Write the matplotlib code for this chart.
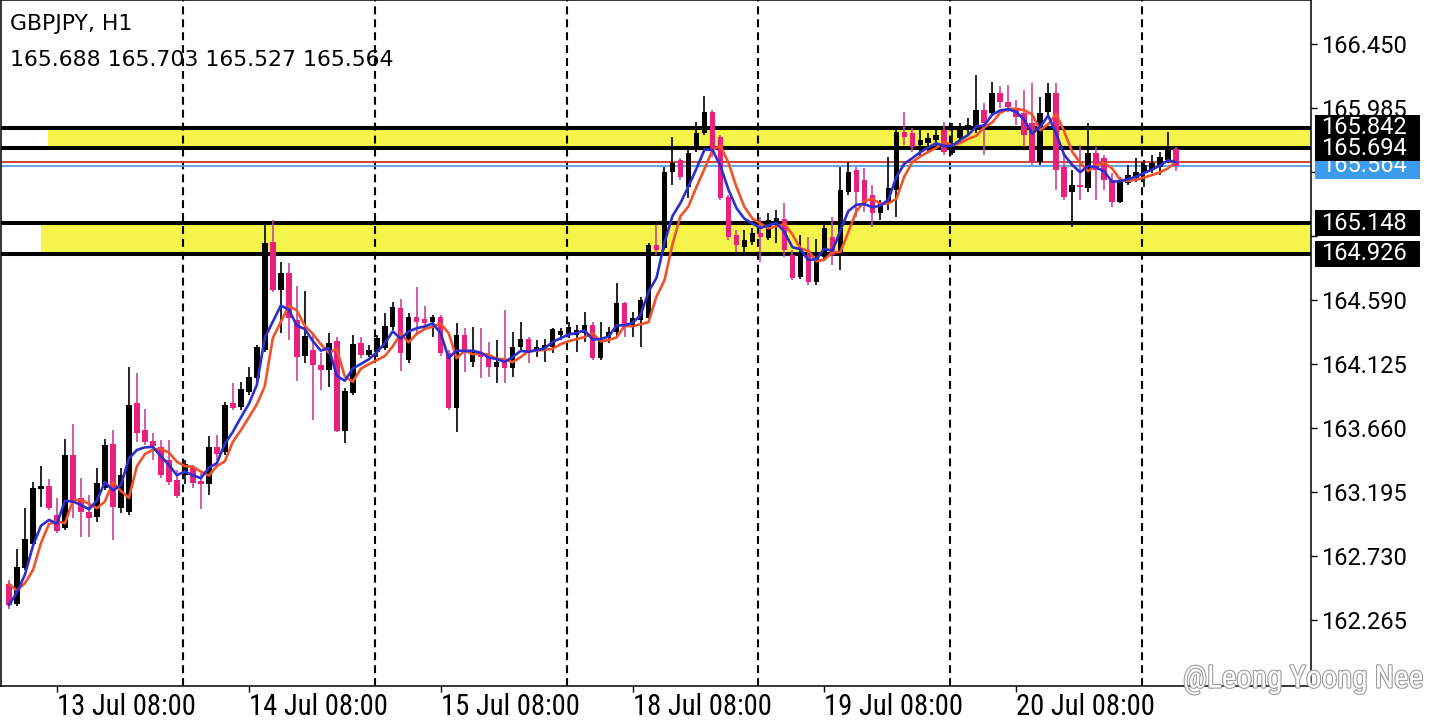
import matplotlib
matplotlib.use("Agg")
import matplotlib.pyplot as plt
import matplotlib.patheffects as pe
import matplotlib.transforms as mtransforms
from matplotlib import font_manager as fm
from matplotlib.patches import Rectangle
import numpy as np
import pandas as pd

plt.rcParams['font.family'] = ['Roboto', 'DejaVu Sans']

symbol = "GBPJPY, H1"
first_bar = "2022-07-13 02:00"

# hourly candles
opens = [162.527, 162.381, 162.643, 162.817, 163.217, 163.239, 163.028, 162.934, 163.464, 163.151,
         163.050, 163.013, 163.224, 163.544, 163.079, 163.050, 163.842, 163.646, 163.566, 163.522,
         163.428, 163.282, 163.319, 163.370, 163.275, 163.253, 163.522, 163.486, 163.842, 163.813,
         163.922, 164.023, 164.227, 165.012, 164.663, 164.786, 164.445, 164.183, 164.227, 164.118,
         164.082, 164.292, 163.638, 163.914, 164.278, 164.191, 164.212, 164.241, 164.394, 164.532,
         164.154, 164.467, 164.452, 164.430, 164.467, 164.205, 163.806, 164.336, 164.140, 164.212,
         164.176, 164.103, 164.154, 164.096, 164.249, 164.307, 164.227, 164.241, 164.249, 164.336,
         164.336, 164.336, 164.350, 164.409, 164.169, 164.314, 164.358, 164.568, 164.394, 164.445,
         164.459, 164.990, 164.968, 165.520, 165.607, 165.411, 165.695, 165.804, 165.956, 165.775,
         165.339, 165.062, 164.975, 165.012, 165.077, 165.041, 165.150, 165.179, 164.917, 164.757,
         164.917, 164.721, 164.903, 165.048, 164.939, 165.375, 165.535, 165.462, 165.353, 165.222,
         165.295, 165.389, 165.811, 165.804, 165.716, 165.731, 165.753, 165.825, 165.658, 165.767,
         165.825, 165.825, 165.971, 165.949, 166.094, 166.029, 165.986, 165.949, 165.876, 165.593,
         165.956, 166.094, 165.557, 165.375, 165.426, 165.404, 165.658, 165.622, 165.462, 165.302,
         165.440, 165.477, 165.513, 165.535, 165.557, 165.607, 165.688]
highs = [162.556, 162.781, 163.079, 163.268, 163.384, 163.290, 163.151, 163.580, 163.689, 163.297,
         163.173, 163.370, 163.580, 163.646, 163.370, 164.103, 164.060, 163.798, 163.624, 163.573,
         163.573, 163.355, 163.428, 163.391, 163.333, 163.602, 163.609, 163.849, 163.987, 163.994,
         164.103, 164.263, 165.135, 165.171, 164.866, 164.859, 164.692, 164.656, 164.336, 164.205,
         164.350, 164.321, 163.951, 164.336, 164.321, 164.263, 164.336, 164.496, 164.576, 164.598,
         164.496, 164.685, 164.547, 164.481, 164.481, 164.227, 164.423, 164.387, 164.394, 164.387,
         164.285, 164.300, 164.518, 164.358, 164.430, 164.321, 164.300, 164.307, 164.387, 164.387,
         164.430, 164.409, 164.503, 164.430, 164.430, 164.394, 164.714, 164.576, 164.503, 164.612,
         165.004, 165.135, 165.557, 165.775, 165.622, 165.680, 165.884, 166.072, 165.971, 165.789,
         165.353, 165.099, 165.099, 165.113, 165.193, 165.222, 165.244, 165.295, 164.954, 165.062,
         165.048, 165.033, 165.135, 165.193, 165.557, 165.593, 165.557, 165.549, 165.426, 165.317,
         165.629, 165.825, 165.956, 165.840, 165.825, 165.804, 165.847, 165.884, 165.876, 165.876,
         165.913, 166.225, 166.022, 166.174, 166.145, 166.152, 166.043, 166.116, 166.167, 166.065,
         166.167, 166.167, 165.658, 165.535, 165.716, 165.876, 165.702, 165.644, 165.513, 165.484,
         165.571, 165.622, 165.607, 165.644, 165.666, 165.811, 165.703]
lows = [162.345, 162.367, 162.628, 162.788, 163.086, 163.064, 162.897, 162.919, 163.006, 162.868,
        162.868, 162.977, 163.210, 162.846, 163.042, 163.028, 163.558, 163.537, 163.428, 163.297,
        163.246, 163.151, 163.253, 163.224, 163.072, 163.173, 163.428, 163.464, 163.791, 163.791,
        163.900, 163.987, 164.212, 164.648, 164.350, 164.300, 164.002, 164.132, 163.718, 163.936,
        163.958, 163.631, 163.551, 163.900, 164.169, 164.176, 164.176, 164.227, 164.372, 164.074,
        164.132, 164.350, 164.372, 164.321, 164.183, 163.791, 163.631, 164.067, 164.103, 164.023,
        164.031, 163.987, 163.987, 164.031, 164.227, 164.132, 164.176, 164.140, 164.205, 164.300,
        164.314, 164.212, 164.285, 164.154, 164.154, 164.278, 164.314, 164.321, 164.321, 164.249,
        164.445, 164.917, 164.954, 165.426, 165.462, 165.331, 165.666, 165.789, 165.629, 165.317,
        165.026, 164.939, 164.939, 164.990, 164.866, 165.026, 165.004, 164.903, 164.736, 164.743,
        164.699, 164.699, 164.881, 164.845, 164.808, 165.353, 165.193, 165.230, 165.121, 165.171,
        165.244, 165.193, 165.716, 165.666, 165.629, 165.658, 165.680, 165.644, 165.644, 165.731,
        165.789, 165.804, 165.644, 165.935, 165.986, 165.956, 165.862, 165.702, 165.571, 165.571,
        165.935, 165.389, 165.317, 165.121, 165.317, 165.375, 165.317, 165.389, 165.266, 165.295,
        165.426, 165.447, 165.411, 165.513, 165.498, 165.586, 165.527]
closes = [162.374, 162.650, 162.854, 163.224, 163.238, 163.079, 162.912, 163.464, 163.115, 163.050,
          163.006, 163.261, 163.537, 163.086, 163.319, 163.827, 163.624, 163.558, 163.529, 163.319,
          163.268, 163.166, 163.399, 163.261, 163.253, 163.522, 163.471, 163.827, 163.806, 163.944,
          164.031, 164.249, 165.004, 164.663, 164.786, 164.459, 164.176, 164.329, 164.118, 164.082,
          164.278, 163.638, 163.929, 164.270, 164.191, 164.227, 164.314, 164.401, 164.539, 164.205,
          164.467, 164.430, 164.423, 164.467, 164.205, 163.806, 164.336, 164.212, 164.227, 164.176,
          164.103, 164.140, 164.096, 164.249, 164.307, 164.205, 164.249, 164.263, 164.380, 164.365,
          164.394, 164.372, 164.409, 164.169, 164.314, 164.358, 164.568, 164.409, 164.459, 164.590,
          164.990, 164.954, 165.520, 165.586, 165.484, 165.658, 165.804, 165.956, 165.680, 165.331,
          165.048, 164.990, 165.026, 165.077, 165.048, 165.171, 165.186, 164.954, 164.750, 164.932,
          164.721, 164.903, 165.113, 164.917, 165.389, 165.520, 165.375, 165.295, 165.222, 165.295,
          165.404, 165.811, 165.775, 165.702, 165.753, 165.767, 165.789, 165.666, 165.716, 165.840,
          165.862, 165.971, 165.876, 166.094, 166.029, 165.993, 165.920, 165.789, 165.593, 165.949,
          166.094, 165.535, 165.338, 165.426, 165.411, 165.658, 165.535, 165.462, 165.302, 165.462,
          165.498, 165.520, 165.571, 165.586, 165.629, 165.680, 165.564]

level_prices = [165.842, 165.694, 165.148, 164.926]
zone_low = [165.694, 164.926]
zone_high = [165.842, 165.148]
zone_start = [4.9, 4.0]
bid = 165.564
ask = 165.591
price_ticks = [162.265, 162.730, 163.195, 163.660, 164.125, 164.590, 165.055, 165.520, 165.985, 166.450]
hidden_ticks = [165.055, 165.520]   # sit under the price boxes
watermark = "@Leong Yoong Nee"


def narrow_font():
    # condensed face for the time scale, if one is installed
    found = [f for f in fm.fontManager.ttflist
             if ('Condensed' in f.fname or 'Narrow' in f.fname)
             and 'Semi' not in f.fname and 'Extra' not in f.fname
             and f.style == 'normal' and f.weight in (400, 'normal', 'regular')]
    found.sort(key=lambda f: [k in f.fname for k in ('Roboto', 'Liberation', 'Noto', 'DejaVu')], reverse=True)
    if found:
        return fm.FontProperties(fname=found[0].fname)
    return fm.FontProperties(family='Roboto')


o, h, l, c = (np.array(a) for a in (opens, highs, lows, closes))
x = np.arange(len(c))
times = pd.date_range(first_bar, periods=300, freq="h")
times = times[times.dayofweek < 5][:len(c)]
tick_idx = x[times.hour == 8]
sep_idx = x[times.hour == 0]
tick_labels = [f"{t.day} {t:%b} 08:00" for t in times[tick_idx]]

fast = pd.Series(c).ewm(span=5, adjust=False).mean()
slow = pd.Series(o).ewm(span=5, adjust=False).mean()

fig = plt.figure(figsize=(14.4, 7.2), dpi=100)
ax = fig.add_axes([1 / 1440, 34 / 720, 1310 / 1440, 686 / 720])
ax.set_xlim(-1, 162.875)
ax.set_ylim(161.7855, 166.770)

for lo, hi, st in zip(zone_low, zone_high, zone_start):
    ax.add_patch(Rectangle((st, lo), 400, hi - lo, color='#F4F44A', lw=0, zorder=1))

for s in sep_idx:
    ax.axvline(s - 0.25, color='black', lw=1.5, ls=(0, (3.8, 2.4)), zorder=2)

ax.axhline(ask, color='#C8372D', lw=1.3, zorder=2.5)
ax.axhline(bid, color='#4EA3E6', lw=1.3, zorder=2.5)
for p in level_prices:
    ax.axhline(p, color='black', lw=2.9, zorder=3)

up = c >= o
ax.vlines(x, l, h, colors=np.where(up, 'black', '#C8449C'), lw=1.2, zorder=4)
ax.bar(x, np.maximum(np.abs(c - o), 0.012), bottom=np.minimum(o, c), width=0.7,
       color=np.where(up, 'black', '#E8207E'), lw=0, zorder=5)

ax.plot(x, slow, color='#F0522A', lw=1.9, zorder=6)
ax.plot(x, fast, color='#2E2ED0', lw=1.9, zorder=7)

for sp in ax.spines.values():
    sp.set_color('black')
    sp.set_linewidth(1.1)

ax.yaxis.tick_right()
ax.set_yticks(price_ticks)
ax.set_yticklabels(["" if t in hidden_ticks else f"{t:.3f}" for t in price_ticks])
ax.tick_params(axis='y', length=4, width=1, labelsize=17, pad=3, colors='black')

xfont = narrow_font()
ax.set_xticks(tick_idx)
ax.set_xticklabels(tick_labels, ha='left', fontproperties=xfont)
ax.tick_params(axis='x', length=4, width=1, labelsize=20, pad=1)

# price labels on the right scale
blend = mtransforms.blended_transform_factory(ax.transAxes, ax.transData)
box_w = 105 / 1310
box_h = 26 * (166.770 - 161.7855) / 686
boxes = [(bid, '#3D9BEB', 8), (165.148, 'black', 9), (164.926, 'black', 9),
         (165.842, 'black', 9), (165.694, 'black', 10)]
for p, col, z in boxes:
    ax.add_patch(Rectangle((1 + 4 / 1310, p - box_h / 2), box_w, box_h, transform=blend,
                           color=col, lw=0, clip_on=False, zorder=z))
    ax.text(1 + 10 / 1310, p, f"{p:.3f}", transform=blend, ha='left', va='center',
            color='white', fontsize=17, clip_on=False, zorder=z + 0.5)

fig.text(10 / 1440, 1 - 24 / 720, symbol, fontsize=15.8, family='DejaVu Sans', va='center')
fig.text(10 / 1440, 1 - 60 / 720, f"{o[-1]:.3f} {h[-1]:.3f} {l[-1]:.3f} {c[-1]:.3f}",
         fontsize=15.8, family='DejaVu Sans', va='center')

wm = fig.text(1183 / 1440, 1 - 679 / 720, watermark, fontsize=22, color='white',
              fontproperties=xfont, va='center', zorder=20,
              path_effects=[pe.withStroke(linewidth=1.6, foreground='#9C9C9C')])
wm.set_fontsize(22)

# squeeze the time labels and the watermark to the widths they have in the picture
fig.canvas.draw()
r = fig.canvas.get_renderer()
lw0 = ax.get_xticklabels()[0].get_window_extent(r).width
ax.tick_params(axis='x', labelsize=20 * 139 / lw0)
ww = wm.get_window_extent(r).width
wm.set_fontsize(22 * 240 / ww)

fig.savefig("out.png", dpi=100, facecolor='white')
